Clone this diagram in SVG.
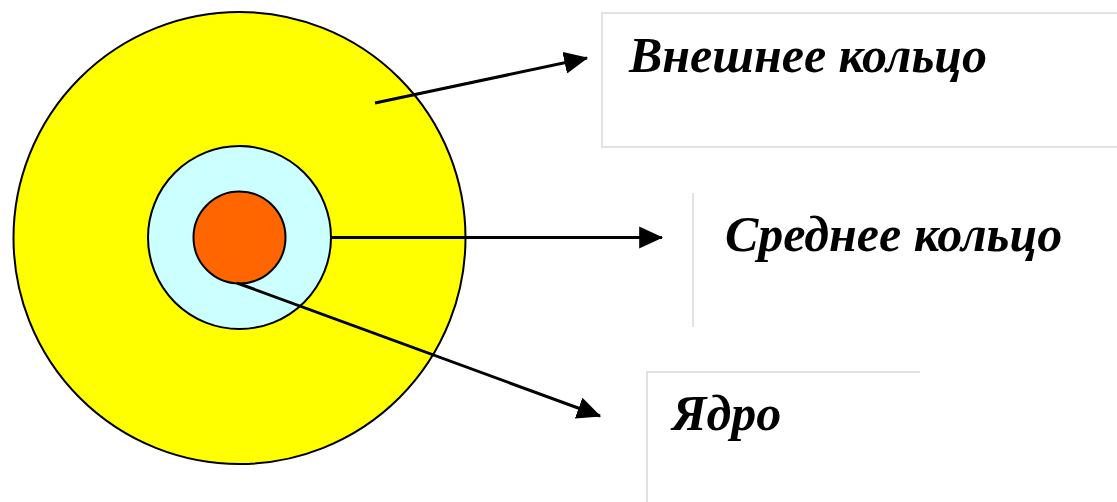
<svg xmlns="http://www.w3.org/2000/svg" width="1117" height="502" viewBox="0 0 1117 502">
<style>
.box{fill:#fff;stroke:#d8d8d8;stroke-width:1.5}
.lbl{font-family:'Liberation Serif','DejaVu Serif',serif;font-weight:700;font-style:italic;font-size:50px;fill:#000}
.conn{stroke:#000;stroke-width:3;fill:none}
.ring{stroke:#000;stroke-width:2}
</style>
<defs>
<marker id="ah" markerWidth="8" markerHeight="7.4" refX="7.6" refY="3.7" orient="auto" markerUnits="strokeWidth">
<path d="M0,0 L8,3.7 L0,7.4 Z" fill="#000"/>
</marker>
</defs>
<rect width="1117" height="502" fill="#fff"/>
<g id="outer-ring"><circle class="ring" cx="239.5" cy="238" r="226" fill="#ffff00"/></g>
<g id="middle-ring"><circle class="ring" cx="239.5" cy="237.5" r="91.5" fill="#ccffff"/></g>
<g id="core"><circle class="ring" cx="239.5" cy="237.5" r="46" fill="#ff6600"/></g>
<g id="label-outer">
<path class="box" d="M1117,13 H602 V147 H1117"/>
<text class="lbl" x="629" y="72">Внешнее кольцо</text>
</g>
<g id="label-middle">
<line x1="693" y1="193" x2="693" y2="327" stroke="#d8d8d8" stroke-width="1.5"/>
<text class="lbl" x="725" y="251">Среднее кольцо</text>
</g>
<g id="label-core">
<path class="box" d="M920,372 H647 V502"/>
<text class="lbl" x="672" y="430">Ядро</text>
</g>
<g id="connectors">
<line class="conn" x1="375" y1="103" x2="587" y2="58" marker-end="url(#ah)"/>
<line class="conn" x1="331" y1="237.5" x2="662" y2="237.5" marker-end="url(#ah)"/>
<line class="conn" x1="237" y1="283" x2="600" y2="416" marker-end="url(#ah)"/>
</g>
</svg>
